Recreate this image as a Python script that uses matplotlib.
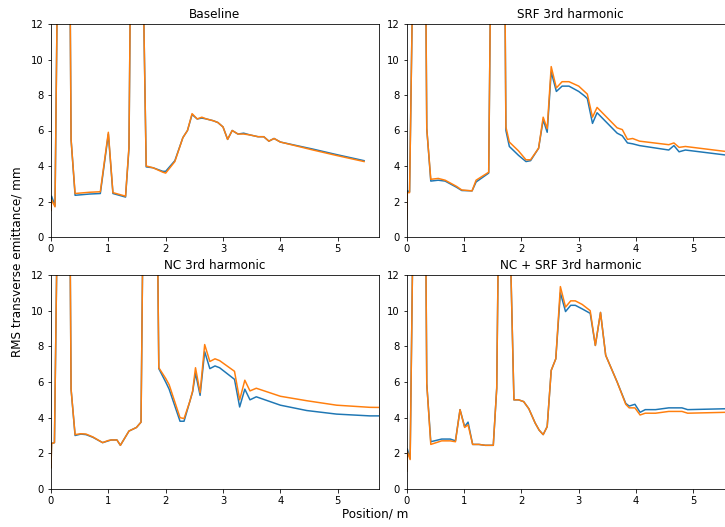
import matplotlib
matplotlib.use("Agg")
import matplotlib.pyplot as plt

# Baseline
base_x = [0, 0.01, 0.07, 0.13, 0.32, 0.35, 0.42, 0.67, 0.86, 1.0, 1.08, 1.3, 1.36, 1.40, 1.58, 1.66, 1.78,
          1.95, 2.0, 2.16, 2.3, 2.38, 2.46, 2.55, 2.63, 2.71, 2.83, 2.91, 3.0, 3.08, 3.16, 3.26, 3.36, 3.47,
          3.61, 3.71, 3.8, 3.89, 4.0, 4.57, 4.97, 5.46]
base_blue = [1.5, 2.3, 1.75, 20, 20, 5.5, 2.35, 2.42, 2.45, 5.8, 2.45, 2.25, 5.0, 20, 20, 3.95, 3.9, 3.7, 3.7,
             4.3, 5.6, 6.0, 6.9, 6.65, 6.7, 6.65, 6.55, 6.45, 6.2, 5.5, 6.0, 5.8, 5.85, 5.75, 5.65, 5.65, 5.4,
             5.55, 5.35, 4.95, 4.65, 4.3]
base_orange = [1.5, 2.1, 1.7, 20, 20, 5.5, 2.45, 2.52, 2.55, 5.9, 2.5, 2.3, 5.1, 20, 20, 4.0, 3.9, 3.65, 3.6,
               4.25, 5.6, 6.0, 6.95, 6.65, 6.75, 6.65, 6.55, 6.45, 6.2, 5.5, 6.0, 5.8, 5.8, 5.75, 5.65, 5.65,
               5.4, 5.55, 5.35, 4.9, 4.6, 4.25]

# SRF 3rd harmonic
srf_x = [0, 0.01, 0.05, 0.13, 0.32, 0.35, 0.42, 0.55, 0.67, 0.87, 0.96, 1.14, 1.21, 1.43, 1.48, 1.70, 1.73,
         1.79, 1.95, 2.08, 2.16, 2.3, 2.38, 2.45, 2.52, 2.61, 2.71, 2.83, 3.0, 3.1, 3.15, 3.24, 3.32, 3.67,
         3.76, 3.85, 3.94, 4.06, 4.57, 4.66, 4.75, 4.86, 5.56, 5.8]
srf_blue = [1.0, 2.6, 2.55, 20, 20, 6.1, 3.15, 3.2, 3.15, 2.8, 2.62, 2.6, 3.1, 3.6, 20, 20, 6.0, 5.1, 4.6,
            4.25, 4.3, 5.0, 6.6, 5.9, 9.3, 8.2, 8.5, 8.5, 8.2, 7.95, 7.8, 6.4, 7.0, 5.85, 5.7, 5.3, 5.25,
            5.15, 4.9, 5.15, 4.8, 4.9, 4.62, 4.58]
srf_orange = [1.0, 2.5, 2.5, 20, 20, 6.1, 3.25, 3.3, 3.2, 2.85, 2.65, 2.6, 3.2, 3.65, 20, 20, 6.2, 5.35, 4.85,
              4.35, 4.35, 5.0, 6.75, 6.1, 9.6, 8.4, 8.75, 8.75, 8.5, 8.2, 8.05, 6.75, 7.3, 6.15, 6.05, 5.5,
              5.55, 5.4, 5.2, 5.3, 5.05, 5.1, 4.82, 4.78]

# NC 3rd harmonic
nc_x = [0, 0.01, 0.06, 0.13, 0.32, 0.35, 0.42, 0.52, 0.61, 0.73, 0.9, 1.0, 1.05, 1.15, 1.21, 1.36, 1.49,
        1.57, 1.62, 1.84, 1.88, 2.0, 2.06, 2.25, 2.32, 2.42, 2.47, 2.52, 2.6, 2.68, 2.77, 2.86, 2.94, 3.2,
        3.29, 3.38, 3.47, 3.58, 4.0, 4.46, 4.98, 5.56, 5.8]
nc_blue = [1.2, 2.55, 2.6, 20, 20, 5.6, 3.0, 3.08, 3.05, 2.9, 2.6, 2.7, 2.75, 2.75, 2.45, 3.25, 3.45, 3.75,
           20, 20, 6.75, 6.0, 5.6, 3.8, 3.8, 4.9, 5.45, 6.5, 5.25, 7.7, 6.75, 6.9, 6.8, 6.15, 4.6, 5.6, 5.0,
           5.17, 4.7, 4.4, 4.2, 4.1, 4.1]
nc_orange = [1.2, 2.55, 2.6, 20, 20, 5.6, 3.05, 3.1, 3.08, 2.92, 2.6, 2.72, 2.75, 2.75, 2.45, 3.25, 3.45,
             3.75, 20, 20, 6.8, 6.2, 5.85, 4.0, 3.95, 4.9, 5.5, 6.8, 5.4, 8.1, 7.15, 7.3, 7.2, 6.6, 5.0, 6.1,
             5.5, 5.65, 5.2, 4.95, 4.7, 4.58, 4.57]

# NC + SRF 3rd harmonic
both_x = [0, 0.01, 0.06, 0.13, 0.32, 0.35, 0.42, 0.61, 0.76, 0.85, 0.93, 1.01, 1.07, 1.15, 1.26, 1.37, 1.51,
          1.57, 1.62, 1.76, 1.87, 1.95, 2.04, 2.13, 2.24, 2.31, 2.38, 2.45, 2.52, 2.6, 2.68, 2.77, 2.86,
          2.94, 3.06, 3.2, 3.29, 3.38, 3.47, 3.67, 3.82, 3.88, 3.98, 4.07, 4.16, 4.34, 4.57, 4.8, 4.9,
          5.56, 5.8]
both_blue = [1.0, 2.25, 1.7, 20, 20, 5.9, 2.65, 2.8, 2.8, 2.7, 4.45, 3.5, 3.75, 2.5, 2.5, 2.45, 2.45, 5.65,
             20, 20, 5.0, 5.0, 4.9, 4.5, 3.7, 3.3, 3.05, 3.5, 6.65, 7.3, 11.0, 9.95, 10.3, 10.3, 10.1, 9.85,
             8.05, 9.9, 7.5, 6.0, 4.8, 4.65, 4.75, 4.3, 4.45, 4.45, 4.55, 4.55, 4.45, 4.5, 4.5]
both_orange = [1.0, 2.1, 1.65, 20, 20, 5.9, 2.5, 2.7, 2.7, 2.65, 4.45, 3.45, 3.6, 2.5, 2.5, 2.45, 2.45, 5.65,
               20, 20, 5.0, 5.0, 4.9, 4.5, 3.7, 3.3, 3.05, 3.5, 6.65, 7.3, 11.35, 10.2, 10.55, 10.55, 10.35,
               10.0, 8.05, 9.9, 7.5, 6.0, 4.75, 4.55, 4.55, 4.15, 4.25, 4.25, 4.35, 4.35, 4.25, 4.3, 4.3]

titles = ["Baseline", "SRF 3rd harmonic", "NC 3rd harmonic", "NC + SRF 3rd harmonic"]
panels = [(base_x, base_blue, base_orange), (srf_x, srf_blue, srf_orange),
          (nc_x, nc_blue, nc_orange), (both_x, both_blue, both_orange)]

W, H = 725, 527
fig = plt.figure(figsize=(W / 72, H / 72), dpi=72)

# axes boxes in pixels: left, top, width, height (right column runs past the edge)
boxes = [(51, 24, 328, 213), (406.7, 24, 328, 213),
         (51, 275, 328, 214), (406.7, 275, 328, 214)]

for (x0, y0, w, h), title, (x, b, o) in zip(boxes, titles, panels):
    ax = fig.add_axes([x0 / W, (H - y0 - h) / H, w / W, h / H])
    ax.plot(x, b, color="tab:blue")
    ax.plot(x, o, color="tab:orange")
    ax.set_xlim(0, 5.72)
    ax.set_ylim(0, 12)
    ax.set_xticks([0, 1, 2, 3, 4, 5])
    ax.set_yticks([0, 2, 4, 6, 8, 10, 12])
    ax.set_title(title)

fig.text(17.5 / W, 1 - 262 / H, "RMS transverse emittance/ mm", rotation=90, ha="center", va="center", fontsize=12)
fig.text(375 / W, 1 - 514 / H, "Position/ m", ha="center", va="center", fontsize=12)

fig.savefig("out.png", dpi=72)
